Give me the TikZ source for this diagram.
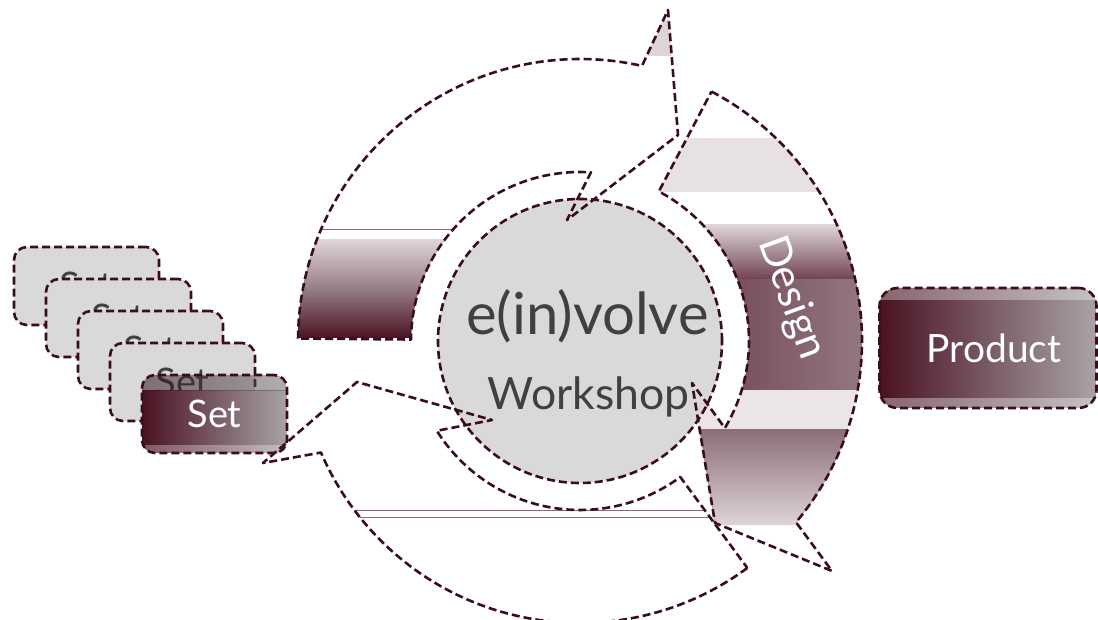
\documentclass[tikz,border=0pt]{standalone}
\usepackage{fontspec}
\setmainfont{Lato}
\usetikzlibrary{calc}
\definecolor{maroon}{RGB}{74,18,34}
\definecolor{dashc}{RGB}{58,14,24}
\definecolor{txtgray}{RGB}{64,64,64}
\definecolor{lgray}{RGB}{217,217,217}
\definecolor{boxgray}{RGB}{168,163,165}
\definecolor{hatchlight}{RGB}{222,212,215}
\definecolor{hatchmid}{RGB}{150,125,133}
\definecolor{hatchdark}{RGB}{100,50,64}
\definecolor{hatchline}{RGB}{140,105,115}
\begin{document}
\begin{tikzpicture}[x=1pt,y=1pt,
  outl/.style={draw=dashc, line width=2.6pt, dash pattern=on 8pt off 4pt, line join=round},
  graycard/.style={outl, fill=lgray, rounded corners=13pt, minimum width=145pt, minimum height=78pt, inner sep=0pt},
  shadedbox/.style={outl, rounded corners=#1, inner sep=0pt,
    path picture={
      \fill[sharp corners, left color=maroon, right color=boxgray]
        (path picture bounding box.south west) rectangle (path picture bounding box.north east);
      \fill[sharp corners, white, fill opacity=0.35]
        ($(path picture bounding box.north west)+(0,-12pt)$) rectangle (path picture bounding box.north east);
      \fill[sharp corners, white, fill opacity=0.35]
        (path picture bounding box.south west) rectangle ($(path picture bounding box.south east)+(0,10pt)$);
    }},
  setbox/.style={outl, rounded corners=13pt, inner sep=0pt,
    path picture={
      \fill[sharp corners, left color=maroon, right color=boxgray]
        (path picture bounding box.south west) rectangle ($(path picture bounding box.north east)+(0,-16pt)$);
      \fill[sharp corners, left color=maroon, right color=boxgray, fill opacity=0.3]
        ($(path picture bounding box.north west)+(0,-16pt)$) rectangle (path picture bounding box.north east);
      \fill[sharp corners, white, fill opacity=0.3]
        (path picture bounding box.south west) rectangle ($(path picture bounding box.south east)+(0,8pt)$);
    }},
  cardtext/.style={anchor=base, text=txtgray, font=\fontsize{38}{40}\selectfont},
  whitetext/.style={text=white, inner sep=0pt}
]
\useasboundingbox (0,0) rectangle (1098,620);
\coordinate (C) at (580,279);

\def\arrowA{($(C)+(179.5:282)$) arc[start angle=179.5,end angle=77.3,radius=282] -- (668,610) -- (678,485) -- (567,400) -- ($(C)+(86.3:169)$) arc[start angle=86.3,end angle=179.5,radius=169] -- cycle}
\def\arrowB{($(C)+(62.2:282)$) arc[start angle=62.2,end angle=-40,radius=282] -- (832,49) -- (715,97) -- (692,237) -- ($(C)+(-31:169)$) arc[start angle=-31,end angle=62.2,radius=169] -- cycle}
\def\arrowD{($(C)+(-53.6:282)$) arc[start angle=-53.6,end angle=-156.7,radius=282] -- (263,157) -- (357,238) -- (492,200) -- ($(C)+(-147.9:169)$) arc[start angle=-147.9,end angle=-53.6,radius=169] -- cycle}

% stack of set cards
\node[graycard] (c0) at (86.5,334) {};
\node[cardtext] (s0) at (86.5,320) {Set};
\node[graycard] (c1) at (118.5,302) {};
\node[cardtext] (s1) at (118.5,288) {Set};
\node[graycard] (c2) at (150.5,270) {};
\node[cardtext] (s2) at (150.5,256) {Set};
\node[graycard] (c3) at (182.5,238) {};
\node[cardtext] (s3) at (182.5,224) {Set};
\node[setbox, minimum width=145pt, minimum height=78pt] (c4) at (214.5,206) {};
\node[whitetext, anchor=base, font=\fontsize{38}{40}\selectfont] (s4) at (214.5,192) {Set};

% arrow fills
\begin{scope}
  \clip \arrowA;
  \fill[top color=hatchlight, bottom color=maroon, middle color=hatchmid] (285,282) rectangle (470,380);
  \draw[hatchline, line width=0.8pt] (285,391) -- (470,391);
  \fill[hatchlight] (600,564) rectangle (700,600);
\end{scope}
\begin{scope}
  \clip \arrowB;
  \fill[hatchlight!70!white] (640,428) rectangle (880,482);
  \fill[top color=hatchlight, bottom color=hatchdark!80!hatchmid] (640,340) rectangle (880,395);
  \fill[left color=hatchdark, right color=hatchmid] (640,230) rectangle (880,340);
  \fill[hatchlight!60!white] (640,190) rectangle (880,230);
  \fill[top color=hatchmid!80!hatchdark, bottom color=hatchlight] (640,95) rectangle (880,190);
\end{scope}
\begin{scope}
  \clip \arrowD;
  \draw[hatchline, line width=0.8pt] (300,110) -- (720,110);
  \draw[hatchline, line width=0.8pt] (300,103) -- (720,103);
\end{scope}

% hub
\node[circle, fill=lgray, outl, minimum size=284pt, inner sep=0pt] (hub) at (C) {};

% arrow outlines
\draw[outl] \arrowA;
\draw[outl] \arrowB;
\draw[outl] \arrowD;

% texts
\node[anchor=base, text=txtgray, font=\fontsize{58}{60}\selectfont] (t1) at (587.5,285) {e(in)volve};
\node[anchor=base, text=txtgray, font=\fontsize{44.5}{48}\selectfont] (t2) at (588.5,210) {Workshop};
\node[whitetext, rotate=-70, font=\fontsize{42}{44}\selectfont] (td) at (791,322) {Design};

% product
\node[shadedbox=18pt, minimum width=217pt, minimum height=120pt] (prod) at (988,272) {};
\node[whitetext, anchor=base, font=\fontsize{39}{42}\selectfont] (tp) at (994,257) {Product};
\end{tikzpicture}
\end{document}
